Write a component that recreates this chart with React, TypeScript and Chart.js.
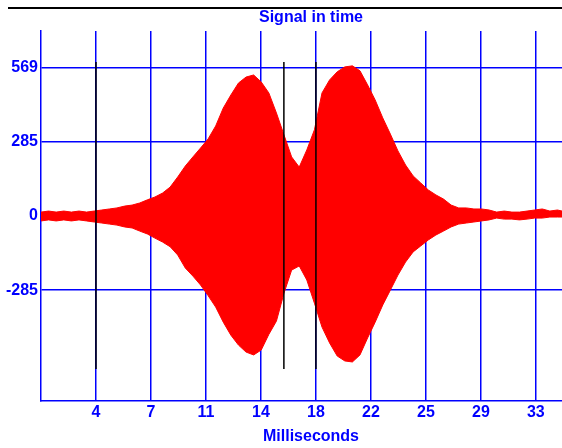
import React, { useEffect, useRef } from "react";
import { Chart, registerables } from "chart.js";

Chart.register(...registerables);

const timeMs = [
  0, 0.5, 1, 1.5, 2, 2.5, 3, 3.5, 4, 4.5, 5, 5.5, 6, 6.5, 7, 7.5, 8, 8.5, 9, 9.5,
  10, 10.5, 11, 11.5, 12, 12.5, 13, 13.5, 14, 14.5, 15, 15.5, 16, 16.5, 17, 17.5,
  18, 18.5, 19, 19.5, 20, 20.5, 21, 21.5, 22, 22.5, 23, 23.5, 24, 24.5, 25, 25.5,
  26, 26.5, 27, 27.5, 28, 28.5, 29, 29.5, 30, 30.5, 31, 31.5, 32, 32.5, 33, 33.5,
  34, 34.3,
];

const upperEnvelope = [
  15, 19, 15, 19, 15, 19, 15, 19, 23, 27, 31, 38, 42, 50, 62, 73, 88, 111, 150, 192,
  227, 261, 296, 346, 415, 465, 511, 534, 542, 515, 473, 396, 311, 227, 188, 254,
  331, 473, 523, 554, 573, 577, 558, 504, 446, 377, 315, 250, 196, 154, 127, 100,
  81, 65, 42, 31, 31, 27, 27, 23, 15, 19, 15, 15, 19, 23, 27, 19, 23, 19,
];

const lowerEnvelope = [
  -19, -15, -19, -15, -19, -15, -19, -23, -27, -31, -35, -42, -46, -58, -69, -85,
  -100, -118, -150, -200, -231, -265, -306, -350, -408, -458, -496, -523, -534,
  -515, -455, -404, -296, -208, -192, -246, -335, -427, -488, -538, -557, -561,
  -534, -469, -408, -342, -285, -227, -177, -138, -115, -92, -73, -58, -42, -31,
  -27, -23, -19, -15, -8, -12, -12, -15, -12, -8, -8, -4, -4, -4,
];

const xTickValues = [3.62, 7.24, 10.86, 14.48, 18.1, 21.72, 25.34, 28.96, 32.58];
const xTickLabels = ["4", "7", "11", "14", "18", "22", "25", "29", "33"];
const yTickValues = [569, 285, 0, -285];
const yTickLabels = ["569", "285", "0", "-285"];

const markerTimes = [3.62, 15.99, 18.1];
const markerTop = 592;
const markerBottom = -588;

const titleText = "Signal in time";
const xAxisTitle = "Milliseconds";

export default function App() {
  const ref = useRef<HTMLCanvasElement>(null);

  useEffect(() => {
    document.body.style.margin = "0";
    const canvas = ref.current;
    if (!canvas) return;
    const blue = "#0000ff";
    const family = "'Liberation Sans', Arial, sans-serif";
    const font = { family, size: 16, weight: "bold" as const };

    const decor = {
      id: "decor",
      beforeDraw(chart: any) {
        const ctx = chart.ctx;
        ctx.save();
        ctx.strokeStyle = "#000000";
        ctx.lineWidth = 2;
        ctx.beginPath();
        ctx.moveTo(8, 8);
        ctx.lineTo(chart.width, 8);
        ctx.stroke();
        ctx.restore();
      },
      afterDraw(chart: any) {
        const ctx = chart.ctx;
        ctx.save();
        ctx.fillStyle = blue;
        ctx.font = `bold 16px ${family}`;
        ctx.textAlign = "center";
        ctx.textBaseline = "middle";
        ctx.fillText(titleText, 311, 18);
        ctx.fillText(xAxisTitle, 311, 437);
        ctx.restore();
      },
    };

    const datasets: any[] = markerTimes.map((m) => ({
      data: [
        { x: m, y: markerTop },
        { x: m, y: markerBottom },
      ],
      borderColor: "#000000",
      borderWidth: 1.5,
      pointRadius: 0,
      fill: false,
    }));
    datasets.push({
      data: timeMs.map((t, i) => ({ x: t, y: upperEnvelope[i] })),
      borderColor: "#ff0000",
      backgroundColor: "#ff0000",
      borderWidth: 1,
      pointRadius: 0,
      fill: "+1",
    });
    datasets.push({
      data: timeMs.map((t, i) => ({ x: t, y: lowerEnvelope[i] })),
      borderColor: "#ff0000",
      backgroundColor: "#ff0000",
      borderWidth: 1,
      pointRadius: 0,
      fill: false,
    });

    const chart = new Chart(canvas, {
      type: "line",
      data: { datasets },
      options: {
        animation: false,
        responsive: true,
        maintainAspectRatio: false,
        layout: { padding: { top: 31, right: 0, left: 0, bottom: 0 } },
        plugins: {
          legend: { display: false },
          tooltip: { enabled: false },
          title: { display: false },
        },
        scales: {
          x: {
            type: "linear",
            min: 0,
            max: 34.3,
            afterBuildTicks: (s: any) => {
              s.ticks = xTickValues.map((v) => ({ value: v }));
            },
            afterFit: (s: any) => {
              s.height = 47;
            },
            ticks: {
              color: blue,
              font,
              padding: 2,
              maxRotation: 0,
              autoSkip: false,
              callback: (v: any) => xTickLabels[xTickValues.indexOf(Number(v))] ?? "",
            },
            grid: { color: blue, lineWidth: 1.5, drawTicks: false },
            border: { color: blue, width: 1.5 },
          },
          y: {
            type: "linear",
            min: -711,
            max: 711,
            afterBuildTicks: (s: any) => {
              s.ticks = yTickValues.map((v) => ({ value: v }));
            },
            afterFit: (s: any) => {
              s.width = 41;
            },
            ticks: {
              color: blue,
              font,
              padding: 3,
              autoSkip: false,
              callback: (v: any) => yTickLabels[yTickValues.indexOf(Number(v))] ?? "",
            },
            grid: { color: blue, lineWidth: 1.5, drawTicks: false },
            border: { color: blue, width: 1.5 },
          },
        },
      },
      plugins: [decor],
    });

    return () => chart.destroy();
  }, []);

  return (
    <div style={{ width: 562, height: 448, position: "relative" }}>
      <canvas ref={ref} />
    </div>
  );
}
